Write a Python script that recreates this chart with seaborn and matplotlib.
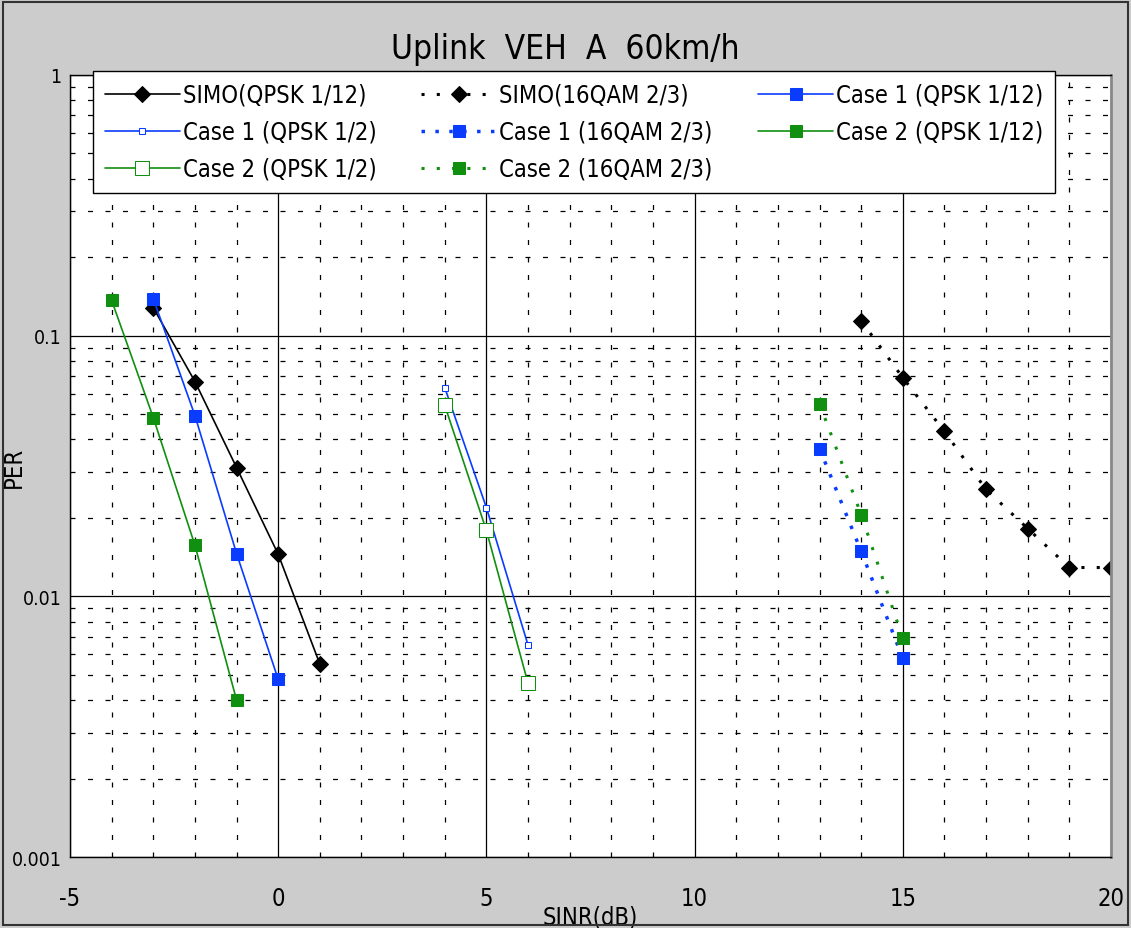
import numpy as np
import pandas as pd
import seaborn as sns
import matplotlib.pyplot as plt
from matplotlib.ticker import MultipleLocator, LogLocator, FixedLocator, NullFormatter
from matplotlib.patches import Rectangle

# data
simo_q12_x = [-3, -2, -1, 0, 1]
simo_q12_y = [0.128, 0.0667, 0.0312, 0.0145, 0.0055]
simo_16_x = [14, 15, 16, 17, 18, 19, 20]
simo_16_y = [0.114, 0.069, 0.0429, 0.0257, 0.0182, 0.0129, 0.0129]
c1_q12_x = [-3, -2, -1, 0]
c1_q12_y = [0.1386, 0.0494, 0.0146, 0.0048]
c1_q2_x = [4, 5, 6]
c1_q2_y = [0.0632, 0.0219, 0.0065]
c1_16_x = [13, 14, 15]
c1_16_y = [0.0369, 0.0149, 0.00578]
c2_q12_x = [-4, -3, -2, -1]
c2_q12_y = [0.1366, 0.0485, 0.0157, 0.0040]
c2_q2_x = [4, 5, 6]
c2_q2_y = [0.054, 0.0179, 0.00464]
c2_16_x = [13, 14, 15]
c2_16_y = [0.0548, 0.0206, 0.0069]

BLUE = "#0a3cff"
GREEN = "#118f11"

sns.set_style("white")
plt.rcParams['font.family'] = ['DejaVu Sans']
plt.rcParams['font.stretch'] = 'condensed'
plt.rcParams['axes.unicode_minus'] = False
plt.rcParams['text.color'] = 'black'
plt.rcParams['axes.labelcolor'] = 'black'
plt.rcParams['xtick.color'] = 'black'
plt.rcParams['ytick.color'] = 'black'

fig = plt.figure(figsize=(11.31, 9.29), dpi=100, facecolor="#cccccc")
ax = fig.add_axes([0.0619, 0.0764, 0.9204, 0.8418])
ax.set_facecolor("white")

def draw(x, y, label, **kw):
    sns.lineplot(x=x, y=y, ax=ax, label=label, **kw)

draw(simo_q12_x, simo_q12_y, "SIMO(QPSK 1/12)", color="black", lw=1.2,
     marker="D", markersize=8, markerfacecolor="black", markeredgecolor="black")
draw(simo_16_x, simo_16_y, "SIMO(16QAM 2/3)", color="black", lw=2.2,
     linestyle=(0, (1, 4)), marker="D", markersize=8,
     markerfacecolor="black", markeredgecolor="black")
draw(c1_q12_x, c1_q12_y, "Case 1 (QPSK 1/12)", color=BLUE, lw=1.2,
     marker="s", markersize=9, markerfacecolor=BLUE, markeredgecolor=BLUE)
draw(c1_q2_x, c1_q2_y, "Case 1 (QPSK 1/2)", color=BLUE, lw=1.2,
     marker="s", markersize=5, markerfacecolor="white", markeredgecolor=BLUE)
draw(c1_16_x, c1_16_y, "Case 1 (16QAM 2/3)", color=BLUE, lw=2.5,
     linestyle=(0, (1, 3)), marker="s", markersize=9,
     markerfacecolor=BLUE, markeredgecolor=BLUE)
draw(c2_q12_x, c2_q12_y, "Case 2 (QPSK 1/12)", color=GREEN, lw=1.2,
     marker="s", markersize=9, markerfacecolor=GREEN, markeredgecolor=GREEN)
draw(c2_q2_x, c2_q2_y, "Case 2 (QPSK 1/2)", color=GREEN, lw=1.2,
     marker="s", markersize=10, markerfacecolor="white", markeredgecolor=GREEN)
draw(c2_16_x, c2_16_y, "Case 2 (16QAM 2/3)", color=GREEN, lw=2.2,
     linestyle=(0, (1, 4)), marker="s", markersize=9,
     markerfacecolor=GREEN, markeredgecolor=GREEN)

ax.set_yscale("log")
ax.set_xlim(-5, 20)
ax.set_ylim(0.001, 1)
ax.xaxis.set_major_locator(MultipleLocator(5))
ax.xaxis.set_minor_locator(MultipleLocator(1))
ax.yaxis.set_major_locator(FixedLocator([0.001, 0.01, 0.1, 1]))
ax.yaxis.set_minor_locator(LogLocator(base=10, subs=np.arange(2, 10)))
ax.yaxis.set_minor_formatter(NullFormatter())
ax.set_yticklabels(["0.001", "0.01", "0.1", "1"])

ax.grid(True, which="major", color="black", lw=0.9, linestyle="-")
ax.grid(True, which="minor", color="black", lw=0.9, linestyle=(0, (4, 10)))
ax.set_axisbelow(True)
ax.tick_params(axis="both", which="both", length=0)
ax.tick_params(axis="x", labelsize=17, pad=21)
ax.tick_params(axis="y", labelsize=14, pad=6)

for s in ax.spines.values():
    s.set_color("black")
    s.set_linewidth(1)
ax.spines["right"].set_color("#888888")
ax.spines["right"].set_linewidth(2)

ax.set_xlabel("SINR(dB)", fontsize=17, labelpad=-4)
ax.set_ylabel("PER", fontsize=17)
ax.yaxis.set_label_coords(-0.042, 0.5)
fig.suptitle("Uplink  VEH  A  60km/h", fontsize=24, y=0.965)

# reference legend is filled row by row, matplotlib fills columns
handles, labels = ax.get_legend_handles_labels()
order = [0, 3, 6, 1, 4, 7, 2, 5]
leg = ax.legend([handles[i] for i in order], [labels[i] for i in order],
                loc="upper left", bbox_to_anchor=(0.022, 0.855, 0.924, 0.15),
                mode="expand", ncol=3, fontsize=17, frameon=True, fancybox=False,
                edgecolor="black", framealpha=1, handlelength=3.2,
                handletextpad=0.1, borderaxespad=0, labelspacing=0.55,
                columnspacing=1.0, borderpad=0.5)
leg.get_frame().set_linewidth(1)

fig.patches.append(Rectangle((0.003, 0.003), 0.994, 0.994, transform=fig.transFigure,
                             fill=False, edgecolor="#333333", lw=1.5))

fig.savefig("out.png", dpi=100, facecolor=fig.get_facecolor())
